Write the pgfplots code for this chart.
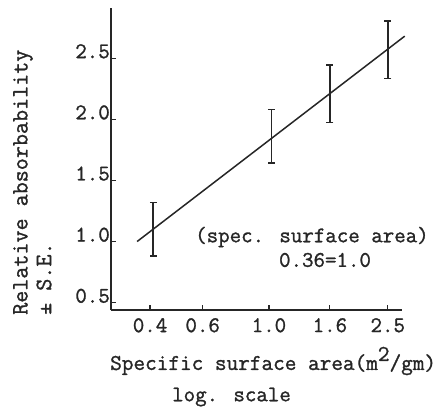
\documentclass[border=0pt]{standalone}
\usepackage{pgfplots}
\pgfplotsset{compat=1.18}
\usepackage{fontspec}
\setmainfont{Latin Modern Mono}[BoldFont={Latin Modern Mono}, BoldFeatures={FakeBold=1.2}]

\definecolor{ink}{HTML}{262626}

\begin{document}
\bfseries\fontsize{22.3}{25}\selectfont
\begin{tikzpicture}
\useasboundingbox (0,0) rectangle (446pt,-411pt);
\begin{axis}[
    at={(111pt,-310pt)}, anchor=south west,
    scale only axis,
    width=291pt, height=302pt,
    xmode=log,
    xmin=0.296, xmax=2.79,
    ymin=0.44, ymax=2.91,
    axis x line=bottom, axis y line=left,
    axis line style={-, ink, line width=1.5pt},
    tick style={ink, line width=1.2pt},
    tick align=inside,
    major tick length=5pt,
    minor tick num=0,
    xtick={0.4,0.6,1.0,1.6,2.5},
    xticklabels={0.4,0.6,1.0,1.6,2.5},
    ytick={0.5,1.0,1.5,2.0,2.5},
    yticklabel style={anchor=base east, inner sep=0pt, xshift=-1pt, /pgf/number format/.cd, fixed, fixed zerofill, precision=1},
    xticklabel style={anchor=north, inner sep=0pt, yshift=-8pt},
    /pgf/number format/assume math mode=true,
    ticklabel style={font=\bfseries\fontsize{22.3}{25}\selectfont, text=ink},
    clip=false,
]
% fitted line
\addplot[ink, line width=1.5pt] coordinates {(0.362,1.0) (2.85,2.68)};
% means with standard errors
\addplot[draw=none, mark=none,
    error bars/.cd, y dir=both, y explicit, error mark=|,
    error bar style={draw=ink, line width=1.8pt},
    error mark options={draw=ink, line width=1.6pt, mark size=3.5pt}]
  coordinates {
    (0.41,1.10) +- (0,0.22)
    (1.02,1.86) +- (0,0.22)
    (1.60,2.21) +- (0,0.235)
    (2.50,2.57) +- (0,0.235)
  };
\end{axis}
\begin{scope}[every node/.style={text=ink, inner sep=0pt}]
\node[rotate=90, anchor=west, font=\bfseries\fontsize{23.4}{25}\selectfont] at (23pt,-315pt) {Relative absorbability};
\node[rotate=90, anchor=west, font=\bfseries\fontsize{23.4}{25}\selectfont] at (44pt,-315pt) {± S.E.};
\node[anchor=west, font=\bfseries\fontsize{22.6}{25}\selectfont] at (110pt,-361pt) {Specific surface area(m\raisebox{9pt}{2}/gm)};
\node[anchor=west] at (172pt,-397pt) {log. scale};
\node[anchor=west] at (195pt,-237pt) {(spec. surface area)};
\node[anchor=center] at (325pt,-260pt) {0.36=1.0};
\end{scope}
\end{tikzpicture}
\end{document}
